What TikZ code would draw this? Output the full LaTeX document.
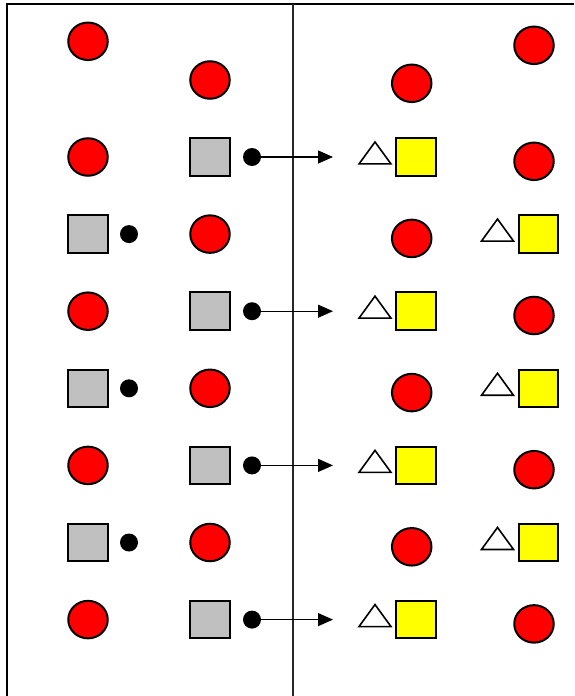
\documentclass[tikz,border=0pt]{standalone}
\usepackage{xcolor}
\usepackage{tikz}
\usetikzlibrary{arrows.meta, shapes.geometric}

\definecolor{ballred}{HTML}{FF0000}
\definecolor{boxgray}{HTML}{C0C0C0}
\definecolor{boxyellow}{HTML}{FFFF00}

\begin{document}
\begin{tikzpicture}[x=1pt, y=-1pt, >=Stealth,
    ball/.style={ellipse, draw, line width=2pt, fill=ballred, minimum width=39.5pt, minimum height=37.5pt, inner sep=0pt},
    graybox/.style={rectangle, draw, line width=2pt, fill=boxgray, minimum width=39.5pt, minimum height=37.5pt, inner sep=0pt},
    yellowbox/.style={graybox, fill=boxyellow},
    knob/.style={circle, fill=black, minimum size=18pt, inner sep=0pt},
    wedge/.style={isosceles triangle, isosceles triangle stretches, shape border rotate=90, draw, line width=1.6pt, minimum width=32pt, minimum height=22pt, inner sep=0pt},
    link/.style={line width=1.2pt, -{Triangle[length=15pt, width=13pt]}}]
    \useasboundingbox (0,0) rectangle (574,696);
    % Frame and divider
    \draw[line width=2pt] (6.5,696) -- (6.5,3.5) -- (574,3.5);
    \draw[line width=2pt, black!85] (293,3.5) -- (293,696);
    % Left panel, top row
    \node[ball] (ballAtop) at (88,41.3) {};
    \node[ball] (ballBtop) at (210,80) {};
    % Left panel, even rows: circle | gray box with knob and link
    \foreach \k [evaluate=\k as \y using 157+77.1*\k] in {0,2,4,6} {
        \node[ball] (ballA\k) at (88,\y) {};
        \node[graybox] (boxB\k) at (210,\y) {};
        \node[knob] (knobB\k) at (252,\y) {};
        \coordinate (tip\k) at (333,\y);
        \draw[link] (knobB\k) -- (tip\k);
    }
    % Left panel, odd rows: gray box with knob | circle
    \foreach \k [evaluate=\k as \y using 157+77.1*\k] in {1,3,5} {
        \node[graybox] (boxA\k) at (88,\y) {};
        \node[knob] (knobA\k) at (129,\y) {};
        \node[ball] (ballB\k) at (210,\y) {};
    }
    % Right panel, top row
    \node[ball] (ballCtop) at (411.7,83.3) {};
    \node[ball] (ballDtop) at (534,45.3) {};
    % Right panel, even rows: triangle and yellow box | circle
    \foreach \k [evaluate=\k as \y using 157+77.1*\k] in {0,2,4,6} {
        \node[yellowbox] (boxC\k) at (416,\y) {};
        \node[wedge] (triC\k) at ([shift={(-41,-1.2)}]boxC\k.center) {};
        \node[ball] (ballD\k) at (534,\y+4.3) {};
    }
    % Right panel, odd rows: circle | triangle and yellow box
    \foreach \k [evaluate=\k as \y using 157+77.1*\k] in {1,3,5} {
        \node[ball] (ballC\k) at (411.7,\y+4.3) {};
        \node[yellowbox] (boxD\k) at (538.5,\y) {};
        \node[wedge] (triD\k) at ([shift={(-41,-1.2)}]boxD\k.center) {};
    }
\end{tikzpicture}
\end{document}
